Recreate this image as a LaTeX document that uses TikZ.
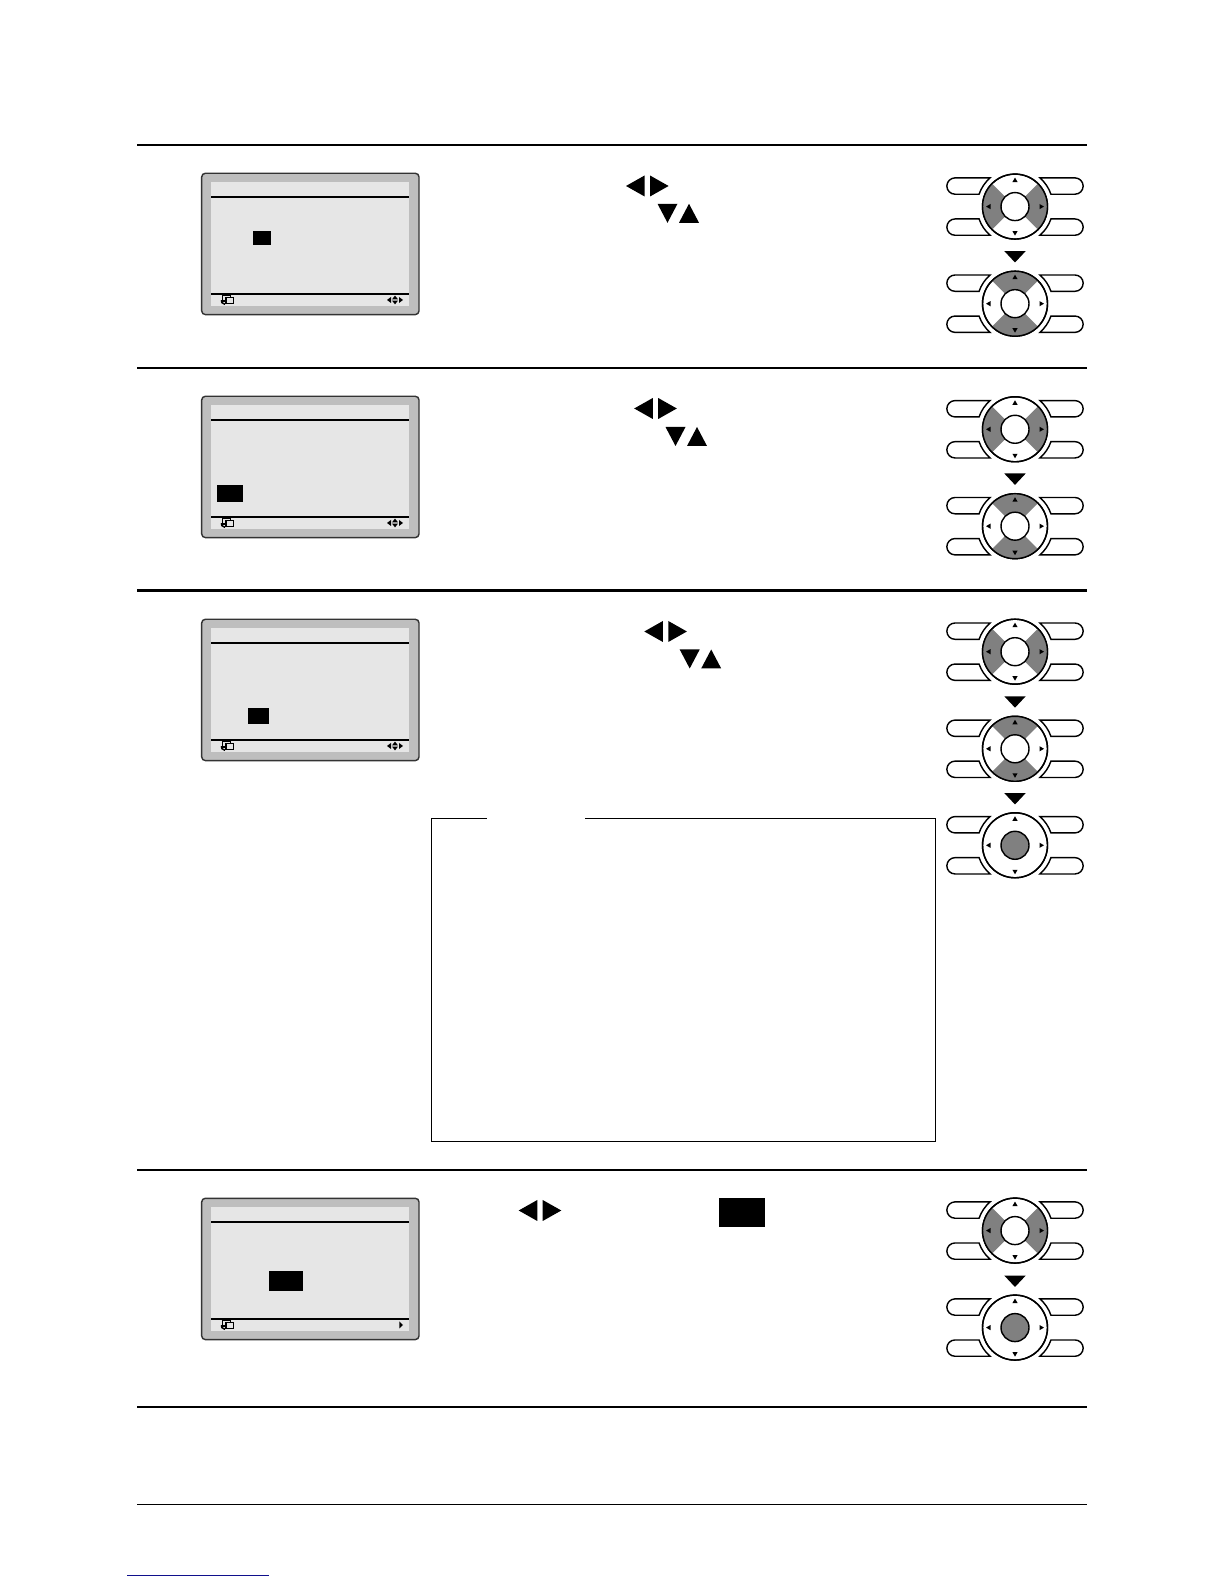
\documentclass[tikz,border=0pt]{standalone}
\definecolor{dialgray}{HTML}{808080}
\definecolor{bezel}{HTML}{BEBEBE}
\definecolor{lcd}{HTML}{E6E6E6}
\definecolor{linkblue}{HTML}{10108C}
\tikzset{
  rule/.style={line width=1.15pt,black},
  dialline/.style={line width=0.85pt,black},
  blk/.style={fill=black,draw=none}
}
\newcommand\SideBtn[2]{\begin{scope}[xscale=#1,yscale=#2]
  \draw[dialline,fill=white] (-60,28.68) -- (131:38) arc[start angle=131,end angle=161,radius=38] -- (-60,12.37) arc[start angle=270,end angle=90,radius=8.155] -- cycle;
\end{scope}}
\newcommand\DialBase[2]{%
  \SideBtn{1}{1}\SideBtn{-1}{1}\SideBtn{1}{-1}\SideBtn{-1}{-1}%
  \draw[dialline,fill=white] (0,0) circle[radius=32.5];}
\newcommand\Sector[1]{\fill[dialgray] (0,0) -- (#1-45:32.5) arc[start angle=#1-45,end angle=#1+45,radius=32.5] -- cycle;}
\newcommand\DialTop{%
  \draw[dialline] (0,0) circle[radius=32.5];
  \fill (-2.6,24.5) -- (2.6,24.5) -- (0,29) -- cycle;
  \fill (-2.6,-24.5) -- (2.6,-24.5) -- (0,-29) -- cycle;
  \fill (-24.5,-2.6) -- (-24.5,2.6) -- (-29,0) -- cycle;
  \fill (24.5,-2.6) -- (24.5,2.6) -- (29,0) -- cycle;}
\newcommand\DialLR[2]{\begin{scope}[shift={(#1,{1584-#2})}]\DialBase{}{}\Sector{0}\Sector{180}\DialTop
  \draw[dialline,fill=white] (0,0) circle[radius=14];\end{scope}}
\newcommand\DialUD[2]{\begin{scope}[shift={(#1,{1584-#2})}]\DialBase{}{}\Sector{90}\Sector{270}\DialTop
  \draw[dialline,fill=white] (0,0) circle[radius=14];\end{scope}}
\newcommand\DialC[2]{\begin{scope}[shift={(#1,{1584-#2})}]\DialBase{}{}\DialTop
  \draw[dialline,fill=dialgray] (0,0) circle[radius=14];\end{scope}}
\newcommand\BigDown[2]{\fill ({#1-10.7},{1584-#2+5.7}) -- ({#1+10.7},{1584-#2+5.7}) -- (#1,{1584-#2-5.7}) -- cycle;}
\newcommand\PairLR[2]{\begin{scope}[shift={(#1,{1584-#2})}]
  \fill (0,0) -- (18.6,10.5) -- (18.6,-10.5) -- cycle;
  \fill (42.6,0) -- (24,10.5) -- (24,-10.5) -- cycle;\end{scope}}
\newcommand\PairUD[2]{\begin{scope}[shift={(#1,{1584-#2})}]
  \fill (0,9.5) -- (20,9.5) -- (10,-9.5) -- cycle;
  \fill (21.5,-9.5) -- (41.5,-9.5) -- (31.5,9.5) -- cycle;\end{scope}}
\newcommand\Screen[6]{\begin{scope}[shift={(0,{1584-#1})}]
  \draw[line width=0.85pt,draw=black!80,fill=bezel,rounded corners=2.2pt] (201.7,-173.3) rectangle (419,-314.6);
  \fill[lcd] (211,-182) rectangle (409,-305.7);
  \draw[rule,line width=1.05pt] (211,-197) -- (409,-197);
  \draw[line width=#6pt] (211,-294) -- (409,-294);
  \fill[black] (#2,{-(#3-#1)}) rectangle (#4,{-(#5-#1)});
  \draw[line width=0.65pt] (222.8,-295.3) rectangle (230.7,-301);
  \draw[line width=0.65pt,fill=lcd] (226,-297.5) rectangle (233.8,-303.2);
  \draw[line width=0.9pt] (225,-304.4) arc[start angle=270,end angle=170,radius=3.6];
\end{scope}}
\newcommand\NavIcon[1]{\begin{scope}[shift={(0,{1584-#1})}]
  \fill (387,-300) -- (391,-297) -- (391,-303) -- cycle;
  \fill (403,-300) -- (399,-297) -- (399,-303) -- cycle;
  \fill (392,-299.4) -- (398,-299.4) -- (395,-295.6) -- cycle;
  \fill (392,-300.6) -- (398,-300.6) -- (395,-304.4) -- cycle;
\end{scope}}
\begin{document}
\begin{tikzpicture}[x=0.6pt,y=0.6pt]
\useasboundingbox (0,0) rectangle (1224,1584);
\fill[white] (0,0) rectangle (1224,1584);
\draw[rule] (137,{1584-145}) -- (1086.6,{1584-145});
\draw[rule] (137,{1584-368}) -- (1086.6,{1584-368});
\draw[rule,line width=1.35pt] (137,{1584-590.5}) -- (1086.6,{1584-590.5});
\draw[rule] (137,{1584-1170}) -- (1086.6,{1584-1170});
\draw[rule,line width=1.35pt] (137,{1584-1407}) -- (1086.6,{1584-1407});
\draw[line width=0.7pt] (137,{1584-1504.3}) -- (1086.6,{1584-1504.3});
\draw[line width=0.8pt,linkblue] (127,{1584-1575.3}) -- (269,{1584-1575.3});
\Screen{0}{253}{230.7}{271}{245}{1.05}\NavIcon{0}
\Screen{223}{217}{484.8}{243.4}{502}{1.05}\NavIcon{223}
\Screen{446}{248.2}{708}{269}{724}{1.05}\NavIcon{446}
\Screen{1025}{269}{1270.7}{303}{1291}{0.7}
\fill ({403},{1584-1025-300}) -- (399.3,{1584-1025-296.5}) -- (399.3,{1584-1025-303.5}) -- cycle;
\PairLR{626}{186}\PairUD{657.5}{213.3}
\PairLR{634.2}{408.5}\PairUD{665.5}{436.5}
\PairLR{644.3}{631.5}\PairUD{679.7}{659}
\PairLR{518.7}{1210.5}
\fill[black] (719,{1584-1198.3}) rectangle (765,{1584-1226.7});
\draw[line width=0.6pt] (486.7,{1584-818.3}) -- (431.4,{1584-818.3}) -- (431.4,{1584-1141.5}) -- (935.5,{1584-1141.5}) -- (935.5,{1584-818.3}) -- (585,{1584-818.3});
\DialLR{1015}{206.6}\BigDown{1015}{256.8}\DialUD{1015}{303.7}
\DialLR{1015}{429.3}\BigDown{1015}{479.2}\DialUD{1015}{526.2}
\DialLR{1015}{651.7}\BigDown{1015}{702}\DialUD{1015}{748.8}\BigDown{1015}{798.8}\DialC{1015}{845.3}
\DialLR{1015}{1230.6}\BigDown{1015}{1281.3}\DialC{1015}{1327.6}
\end{tikzpicture}
\end{document}
